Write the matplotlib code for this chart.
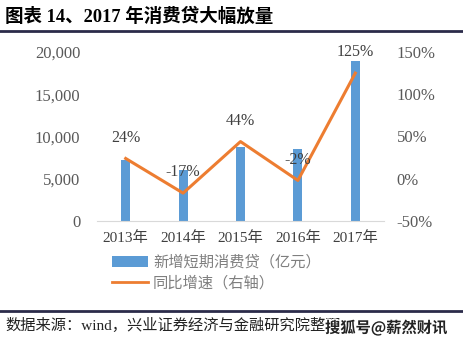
import matplotlib
matplotlib.use("Agg")
import matplotlib.pyplot as plt
from matplotlib.lines import Line2D
from matplotlib.patches import Patch
import matplotlib.patheffects as pe

# ── data ──────────────────────────────────────────────────────────────────────
years = ["2013年", "2014年", "2015年", "2016年", "2017年"]
new_loans = [7200, 6000, 8700, 8500, 18900]       # 新增短期消费贷（亿元）
yoy_growth = [24, -17, 44, -2, 125]               # 同比增速（%）
left_ticks = [0, 5000, 10000, 15000, 20000]
right_ticks = [-50, 0, 50, 100, 150]

COLOR_BAR = "#5B9BD5"
COLOR_LINE = "#ED7D31"
COLOR_TICK = "#595959"
SERIF = ["Liberation Serif", "Noto Sans CJK SC"]
CJK = ["Noto Sans CJK SC", "DejaVu Sans"]

W, H = 464, 345
fig = plt.figure(figsize=(W / 100, H / 100), dpi=100)

ax = fig.add_axes([97 / W, 1 - 221 / H, 287 / W, 169 / H])
x = list(range(len(years)))
ax.bar(x, new_loans, width=0.16, color=COLOR_BAR, zorder=2)
ax.set_xlim(-0.5, 4.5)
ax.set_ylim(0, 20000)
ax.set_yticks(left_ticks)
ax.set_yticklabels([f"{v:,}" for v in left_ticks], family=SERIF,
                   fontsize=12, color=COLOR_TICK)
ax.set_xticks(x)
ax.set_xticklabels(years, family=SERIF, fontsize=11, color="#404040")
ax.tick_params(length=0, pad=12)
ax.tick_params(axis="x", pad=7)
for s in ["top", "left", "right"]:
    ax.spines[s].set_visible(False)
ax.spines["bottom"].set_color("#d9d9d9")

ax2 = ax.twinx()
ax2.plot(x, yoy_growth, color=COLOR_LINE, linewidth=2.2, zorder=3)
ax2.set_ylim(-50, 150)
ax2.set_yticks(right_ticks)
ax2.set_yticklabels([f"{v}%" for v in right_ticks], family=SERIF,
                    fontsize=12, color=COLOR_TICK)
ax2.tick_params(length=0, pad=9)
for s in ax2.spines.values():
    s.set_visible(False)
for xi, v in zip(x, yoy_growth):
    ax2.annotate(f"{v}%", (xi, v), xytext=(0, 15), textcoords="offset points",
                 ha="center", va="center", family=SERIF, fontsize=11.5,
                 color="#404040")

# legend
handles = [Patch(facecolor=COLOR_BAR, label="新增短期消费贷（亿元）"),
           Line2D([], [], color=COLOR_LINE, linewidth=2, label="同比增速（右轴）")]
fig.legend(handles=handles, loc="upper left", bbox_to_anchor=(98 / W, 1 - 240 / H),
           frameon=False, prop={"family": CJK, "size": 11}, labelcolor="#7f7f7f",
           handlelength=2.4, handletextpad=0.3, labelspacing=0.25)

# title and rules
fig.text(5 / W, 1 - 17 / H, "图表 14、2017 年消费贷大幅放量", family=SERIF,
         fontsize=13.3, fontweight="bold", va="center", ha="left")
fig.add_artist(Line2D([0, 1], [1 - 31 / H] * 2, color="#2b2b4a", linewidth=2))
fig.add_artist(Line2D([0, 1], [1 - 311 / H] * 2, color="#2b2b4a", linewidth=2))
fig.text(5 / W, 1 - 325 / H, "数据来源：wind，兴业证券经济与金融研究院整理", family=SERIF,
         fontsize=11, va="center", ha="left", color="#222222")
fig.text(325 / W, 1 - 328 / H, "搜狐号@薪然财讯", family=CJK, fontsize=11,
         fontweight="bold", va="center", ha="left", color="#222222",
         path_effects=[pe.withStroke(linewidth=2, foreground="white")])

fig.savefig("out.png", dpi=100)
